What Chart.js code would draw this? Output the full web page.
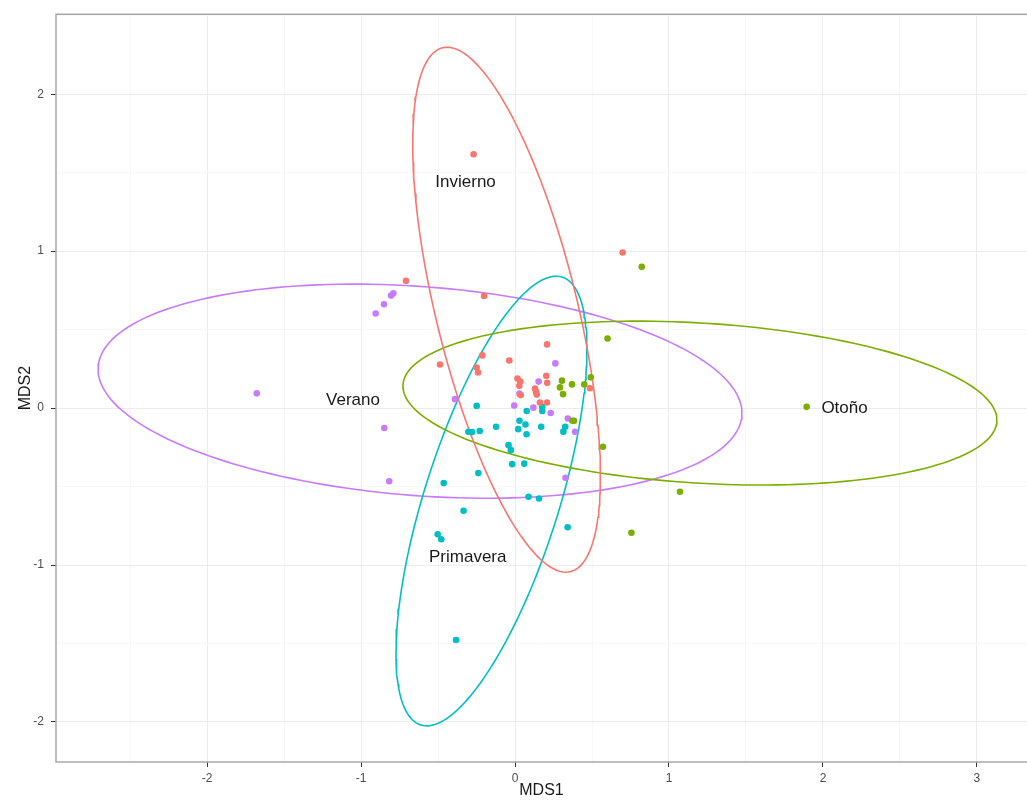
<!DOCTYPE html>
<html><head><meta charset="utf-8">
<script src="https://cdn.jsdelivr.net/npm/chart.js@4.4.1/dist/chart.umd.min.js"></script>
<style>html,body{margin:0;padding:0;background:#fff}canvas{display:block}</style>
</head><body>
<canvas id="c" width="1027" height="800"></canvas>
<script>
// ---- data ----
const groups = ['Invierno', 'Otoño', 'Primavera', 'Verano'];
const groupColors = ['#F8766D', '#7CAE00', '#00BFC4', '#C77CFF'];

const inviernoX = [-0.269, 0.699, -0.708, -0.201, 0.208, -0.212, -0.487, -0.037, -0.249, -0.240, 0.016, 0.034, 0.028, 0.203, 0.209, 0.130, 0.136, 0.141, 0.037, 0.487, 0.162, 0.208];
const inviernoY = [1.618, 0.992, 0.811, 0.715, 0.406, 0.336, 0.278, 0.303, 0.258, 0.227, 0.189, 0.170, 0.142, 0.206, 0.161, 0.124, 0.105, 0.086, 0.083, 0.127, 0.036, 0.036];

const otonoX = [0.823, 0.601, 0.305, 0.292, 0.370, 0.450, 0.312, 0.492, 0.373, 0.383, 0.571, 1.894, 1.071, 0.756];
const otonoY = [0.900, 0.444, 0.175, 0.132, 0.151, 0.151, 0.089, 0.196, -0.081, -0.081, -0.246, 0.008, -0.533, -0.794];

const primaveraX = [-0.249, 0.177, 0.177, 0.076, 0.029, 0.068, -0.123, 0.021, 0.075, 0.170, 0.326, 0.314, -0.303, -0.279, -0.229, -0.042, -0.027, -0.018, 0.060, -0.238, -0.463, 0.088, 0.156, -0.334, 0.342, -0.502, -0.479, -0.383];
const primaveraY = [0.014, 0.008, -0.018, -0.018, -0.081, -0.104, -0.119, -0.134, -0.167, -0.119, -0.119, -0.150, -0.151, -0.153, -0.146, -0.236, -0.268, -0.357, -0.354, -0.414, -0.478, -0.565, -0.576, -0.654, -0.759, -0.804, -0.836, -1.478];

const veranoX = [-0.790, -0.805, -0.851, -0.905, 0.262, 0.153, 0.029, -0.390, -0.005, 0.119, 0.232, 0.343, 0.390, -1.677, -0.849, -0.817, 0.328];
const veranoY = [0.732, 0.717, 0.662, 0.603, 0.285, 0.169, 0.092, 0.057, 0.016, 0.003, -0.031, -0.066, -0.151, 0.094, -0.127, -0.466, -0.444];

// ellipse parameters per group (centre, semi-axes, rotation in degrees)
const ellipseCX = [-0.055, 1.201, -0.153, -0.617];
const ellipseCY = [0.627, 0.032, -0.592, 0.108];
const ellipseA = [1.720, 1.932, 1.499, 2.096];
const ellipseB = [0.459, 0.510, 0.436, 0.666];
const ellipseAngle = [104.0, -3.45, 72.1, -4.26];

// group label positions
const labelX = [-0.321, 2.14, -0.307, -1.052];
const labelY = [1.439, 0.0, -0.949, 0.048];

const xTicks = [-2, -1, 0, 1, 2, 3];
const yTicks = [-2, -1, 0, 1, 2];
const xTitle = 'MDS1';
const yTitle = 'MDS2';

// ---- build ----
const pointsX = [inviernoX, otonoX, primaveraX, veranoX];
const pointsY = [inviernoY, otonoY, primaveraY, veranoY];

function ellipsePts(i) {
  const pts = [];
  const th = ellipseAngle[i] * Math.PI / 180;
  for (let k = 0; k <= 180; k++) {
    const t = k / 180 * 2 * Math.PI;
    const ca = ellipseA[i] * Math.cos(t), sb = ellipseB[i] * Math.sin(t);
    pts.push({x: ellipseCX[i] + ca * Math.cos(th) - sb * Math.sin(th),
              y: ellipseCY[i] + ca * Math.sin(th) + sb * Math.cos(th)});
  }
  return pts;
}

const datasets = [];
groups.forEach((g, i) => {
  datasets.push({
    label: g + ' points',
    data: pointsX[i].map((x, j) => ({x, y: pointsY[i][j]})),
    showLine: false,
    pointRadius: 3.3,
    pointHoverRadius: 3.3,
    pointBackgroundColor: groupColors[i],
    pointBorderWidth: 0,
    borderColor: groupColors[i],
    order: 1
  });
});
groups.forEach((g, i) => {
  datasets.push({
    label: g + ' ellipse',
    data: ellipsePts(i),
    showLine: true,
    pointRadius: 0,
    borderColor: groupColors[i],
    borderWidth: 1.6,
    fill: false,
    tension: 0,
    order: 2
  });
});

function halfTicks(arr) {
  const out = [];
  for (let v = arr[0] - 0.5; v <= arr[arr.length - 1] + 0.5001; v += 0.5) out.push({value: Math.round(v * 2) / 2});
  return out;
}
const isMajor = v => Number.isInteger(v);

const panelPlugin = {
  id: 'panel',
  afterDatasetsDraw(chart) {
    const {ctx, chartArea: a, scales} = chart;
    ctx.save();
    ctx.font = '17px "Liberation Sans", Arial, sans-serif';
    ctx.fillStyle = '#1a1a1a';
    ctx.textAlign = 'center';
    ctx.textBaseline = 'middle';
    groups.forEach((g, i) => {
      ctx.fillText(g, scales.x.getPixelForValue(labelX[i]), scales.y.getPixelForValue(labelY[i]));
    });
    ctx.strokeStyle = '#a8a8a8';
    ctx.lineWidth = 1.5;
    ctx.beginPath();
    ctx.moveTo(chart.width + 5, a.top);
    ctx.lineTo(a.left, a.top);
    ctx.lineTo(a.left, a.bottom);
    ctx.lineTo(chart.width + 5, a.bottom);
    ctx.stroke();
    ctx.restore();
  }
};

new Chart(document.getElementById('c'), {
  type: 'scatter',
  data: {datasets},
  plugins: [panelPlugin],
  options: {
    responsive: false,
    animation: false,
    events: [],
    layout: {autoPadding: false, padding: {top: 14, right: 0, left: 0, bottom: 0}},
    plugins: {legend: {display: false}, tooltip: {enabled: false}},
    scales: {
      x: {
        type: 'linear',
        min: -2.981, max: 3.325,
        afterBuildTicks: ax => { ax.ticks = halfTicks(xTicks).filter(t => t.value > -2.981 && t.value < 3.325); },
        afterFit: sc => { sc.height = 38; sc.paddingRight = 0; },
        border: {display: false},
        grid: {
          color: c => isMajor(c.tick.value) ? '#ececec' : '#f7f7f7',
          lineWidth: 1,
          drawTicks: true,
          tickLength: 5,
          tickColor: c => isMajor(c.tick.value) ? '#333333' : 'rgba(0,0,0,0)'
        },
        ticks: {
          autoSkip: false, maxRotation: 0,
          padding: 4,
          color: '#4d4d4d',
          font: {family: '"Liberation Sans", Arial, sans-serif', size: 12},
          callback: v => isMajor(v) ? String(v) : ''
        },
        title: {display: true, text: xTitle, color: '#1a1a1a',
          font: {family: '"Liberation Sans", Arial, sans-serif', size: 16},
          padding: {top: 0, bottom: 0}}
      },
      y: {
        type: 'linear',
        min: -2.255, max: 2.510,
        afterBuildTicks: ax => { ax.ticks = halfTicks(yTicks).filter(t => t.value > -2.255 && t.value < 2.510); },
        afterFit: sc => { sc.width = 56; },
        border: {display: false},
        grid: {
          color: c => isMajor(c.tick.value) ? '#ececec' : '#f7f7f7',
          lineWidth: 1,
          drawTicks: true,
          tickLength: 5,
          tickColor: c => isMajor(c.tick.value) ? '#333333' : 'rgba(0,0,0,0)'
        },
        ticks: {
          autoSkip: false,
          padding: 7,
          color: '#4d4d4d',
          font: {family: '"Liberation Sans", Arial, sans-serif', size: 12},
          callback: v => isMajor(v) ? String(v) : ''
        },
        title: {display: true, text: yTitle, color: '#1a1a1a',
          font: {family: '"Liberation Sans", Arial, sans-serif', size: 16},
          padding: {top: 16, bottom: 0}}
      }
    }
  }
});
</script>
</body></html>
